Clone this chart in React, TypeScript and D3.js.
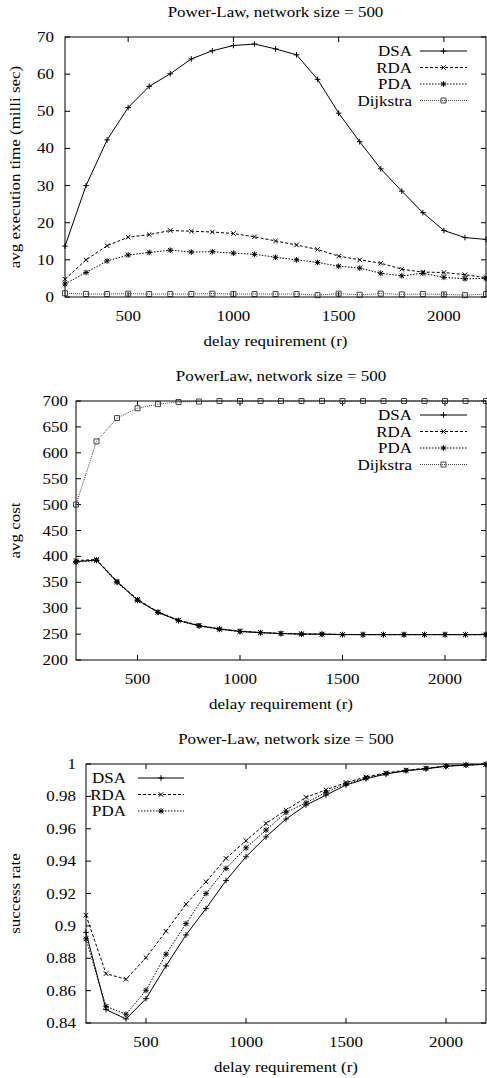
import React, { useEffect, useRef } from 'react';
import * as d3 from 'd3';

const DELAY = [200, 300, 400, 500, 600, 700, 800, 900, 1000, 1100, 1200, 1300, 1400, 1500, 1600, 1700, 1800, 1900, 2000, 2100, 2200];
const X_TICKS = [500, 1000, 1500, 2000];

const TIME_DSA = [13.7, 30.0, 42.3, 51.0, 56.7, 60.1, 64.1, 66.3, 67.7, 68.1, 66.8, 65.2, 58.6, 49.5, 41.8, 34.5, 28.5, 22.7, 17.9, 16.0, 15.5];
const TIME_RDA = [4.8, 10.0, 13.8, 16.1, 16.8, 17.9, 17.7, 17.5, 17.1, 16.2, 15.1, 14.0, 12.8, 11.0, 10.0, 9.1, 7.5, 6.7, 6.6, 6.0, 5.2];
const TIME_PDA = [3.5, 6.6, 9.7, 11.3, 12.0, 12.6, 12.1, 12.2, 11.8, 11.5, 10.7, 10.0, 9.3, 8.3, 7.8, 6.4, 5.7, 6.4, 5.3, 4.9, 5.0];
const TIME_DIJ = [1.0, 0.8, 0.8, 0.9, 0.8, 0.8, 0.8, 0.9, 0.8, 0.8, 0.8, 0.8, 0.5, 0.9, 0.6, 0.9, 0.7, 0.8, 0.7, 0.5, 0.8];
const TIME_TICKS = [0, 10, 20, 30, 40, 50, 60, 70];

const COST_DSA = [390, 393, 351, 316, 292, 276, 266, 260, 255, 253, 251, 250, 250, 249, 249, 249, 249, 249, 249, 249, 249];
const COST_RDA = [392, 394, 352, 317, 293, 277, 267, 260, 256, 253, 251.5, 250.5, 250, 249.5, 249, 249, 249, 249, 249, 249, 249];
const COST_PDA = [389, 392, 350, 315, 292, 276, 266, 259, 255, 252.5, 251, 250, 249.5, 249, 249, 249, 249, 249, 249, 249, 249];
const COST_DIJ = [500, 622, 667, 686, 694, 698, 699, 700, 700, 700, 700, 700, 700, 700, 700, 700, 700, 700, 700, 700, 700];
const COST_TICKS = [200, 250, 300, 350, 400, 450, 500, 550, 600, 650, 700];

const SUCC_DSA = [0.896, 0.8483, 0.8425, 0.855, 0.8753, 0.8944, 0.9107, 0.928, 0.9427, 0.955, 0.966, 0.9746, 0.9808, 0.987, 0.9909, 0.9938, 0.9958, 0.997, 0.9986, 0.9993, 0.9998];
const SUCC_RDA = [0.9066, 0.8705, 0.867, 0.8804, 0.8967, 0.9134, 0.9272, 0.9417, 0.9526, 0.9633, 0.9715, 0.9794, 0.984, 0.9886, 0.992, 0.9945, 0.9962, 0.9974, 0.9988, 0.9994, 0.9998];
const SUCC_PDA = [0.892, 0.8503, 0.8454, 0.8602, 0.8825, 0.9014, 0.92, 0.9355, 0.9482, 0.9592, 0.9701, 0.976, 0.9825, 0.9878, 0.9913, 0.9941, 0.996, 0.9972, 0.9987, 0.9994, 0.9998];
const SUCC_TICKS = [0.84, 0.86, 0.88, 0.9, 0.92, 0.94, 0.96, 0.98, 1];

// line styles + point glyphs, gnuplot-ish
const STYLE = {
  DSA: { dash: null, color: '#000', marker: 'plus' },
  RDA: { dash: '3,2', color: '#000', marker: 'cross' },
  PDA: { dash: '1.5,1.5', color: '#000', marker: 'star' },
  Dijkstra: { dash: '1,1', color: '#444', marker: 'square' },
};

const PANELS = [
  {
    title: 'Power-Law, network size = 500', ylabel: 'avg execution time (milli sec)',
    left: 65, top: 37, bottom: 297, yDomain: [0, 70], yTicks: TIME_TICKS, fmt: d3.format('d'), tickGap: 11,
    series: [['DSA', TIME_DSA], ['RDA', TIME_RDA], ['PDA', TIME_PDA], ['Dijkstra', TIME_DIJ]],
    legend: { textX: 412, lineX0: 420, lineX1: 467 },
  },
  {
    title: 'PowerLaw, network size = 500', ylabel: 'avg cost',
    left: 76, top: 401, bottom: 660, yDomain: [200, 700], yTicks: COST_TICKS, fmt: d3.format('d'), tickGap: 8,
    series: [['DSA', COST_DSA], ['RDA', COST_RDA], ['PDA', COST_PDA], ['Dijkstra', COST_DIJ]],
    legend: { textX: 412, lineX0: 420, lineX1: 467 },
  },
  {
    title: 'Power-Law, network size = 500', ylabel: 'success rate',
    left: 86, top: 764, bottom: 1023, yDomain: [0.84, 1], yTicks: SUCC_TICKS, fmt: (v: number) => String(+v.toFixed(2)), tickGap: 10,
    series: [['DSA', SUCC_DSA], ['RDA', SUCC_RDA], ['PDA', SUCC_PDA]],
    legend: { textX: 126, lineX0: 138, lineX1: 184 },
  },
];

const RIGHT = 486;
const TICK = 5;
const FONT = '"Liberation Serif", "Times New Roman", serif';
const STRETCH = 1.13;

function glyph(kind: string) {
  const s = 2.8;
  const plus = `M${-s},0H${s}M0,${-s}V${s}`;
  const cross = `M${-s * 0.8},${-s * 0.8}L${s * 0.8},${s * 0.8}M${-s * 0.8},${s * 0.8}L${s * 0.8},${-s * 0.8}`;
  if (kind === 'plus') return plus;
  if (kind === 'cross') return cross;
  if (kind === 'star') return plus + cross;
  return `M${-2.5},${-2.5}H2.5V2.5H-2.5Z`;
}

export default function App() {
  const svgRef = useRef<SVGSVGElement>(null);

  useEffect(() => {
    const svg = d3.select(svgRef.current);
    svg.selectAll('*').remove();

    const text = (g: any, x: number, y: number, str: string, anchor = 'middle', rot = 0) =>
      g.append('text')
        .attr('transform', `translate(${x},${y})${rot ? ` rotate(${rot})` : ''} scale(${STRETCH},1)`)
        .attr('text-anchor', anchor).style('font-family', FONT).style('font-size', '15px')
        .style('fill', '#000').text(str);

    PANELS.forEach(p => {
      const g = svg.append('g');
      const x = d3.scaleLinear().domain([200, 2200]).range([p.left, RIGHT]);
      const y = d3.scaleLinear().domain(p.yDomain).range([p.bottom, p.top]);
      const midX = (p.left + RIGHT) / 2;

      text(g, midX, p.top - 20, p.title);
      text(g, midX, p.bottom + 49, 'delay requirement (r)');
      text(g, 20, (p.top + p.bottom) / 2, p.ylabel, 'middle', -90);

      // ticks, mirrored on top/right like gnuplot
      p.yTicks.forEach(t => {
        const yy = y(t);
        g.append('line').attr('x1', p.left).attr('x2', p.left + TICK).attr('y1', yy).attr('y2', yy).attr('stroke', '#000');
        g.append('line').attr('x1', RIGHT - TICK).attr('x2', RIGHT).attr('y1', yy).attr('y2', yy).attr('stroke', '#000');
        text(g, p.left - p.tickGap, yy + 5, p.fmt(t), 'end');
      });
      X_TICKS.forEach(t => {
        const xx = x(t);
        g.append('line').attr('x1', xx).attr('x2', xx).attr('y1', p.bottom).attr('y2', p.bottom - TICK).attr('stroke', '#000');
        g.append('line').attr('x1', xx).attr('x2', xx).attr('y1', p.top).attr('y2', p.top + TICK).attr('stroke', '#000');
        text(g, xx, p.bottom + 24, String(t));
      });

      const line = d3.line<number>().x((_, i) => x(DELAY[i])).y(v => y(v));

      p.series.forEach(([name, vals]: any) => {
        const st = STYLE[name];
        g.append('path').datum(vals).attr('d', line).attr('fill', 'none')
          .attr('stroke', st.color).attr('stroke-width', 1)
          .attr('stroke-dasharray', st.dash);
        vals.forEach((v: number, i: number) => {
          g.append('path').attr('d', glyph(st.marker))
            .attr('transform', `translate(${x(DELAY[i])},${y(v)})`)
            .attr('fill', 'none').attr('stroke', st.color).attr('stroke-width', 1);
        });
      });

      // legend
      p.series.forEach(([name]: any, i: number) => {
        const st = STYLE[name];
        const ly = p.top + 14 + i * 16.5;
        text(g, p.legend.textX, ly + 5, name, 'end');
        g.append('line').attr('x1', p.legend.lineX0).attr('x2', p.legend.lineX1).attr('y1', ly).attr('y2', ly)
          .attr('stroke', st.color).attr('stroke-dasharray', st.dash);
        g.append('path').attr('d', glyph(st.marker))
          .attr('transform', `translate(${(p.legend.lineX0 + p.legend.lineX1) / 2},${ly})`)
          .attr('fill', 'none').attr('stroke', st.color);
      });

      g.append('rect').attr('x', p.left).attr('y', p.top)
        .attr('width', RIGHT - p.left).attr('height', p.bottom - p.top)
        .attr('fill', 'none').attr('stroke', '#000').attr('stroke-width', 1);
    });
  }, []);

  return (
    <svg ref={svgRef} width={487} height={1078}
      style={{ position: 'absolute', left: 0, top: 0, background: 'white' }} />
  );
}
